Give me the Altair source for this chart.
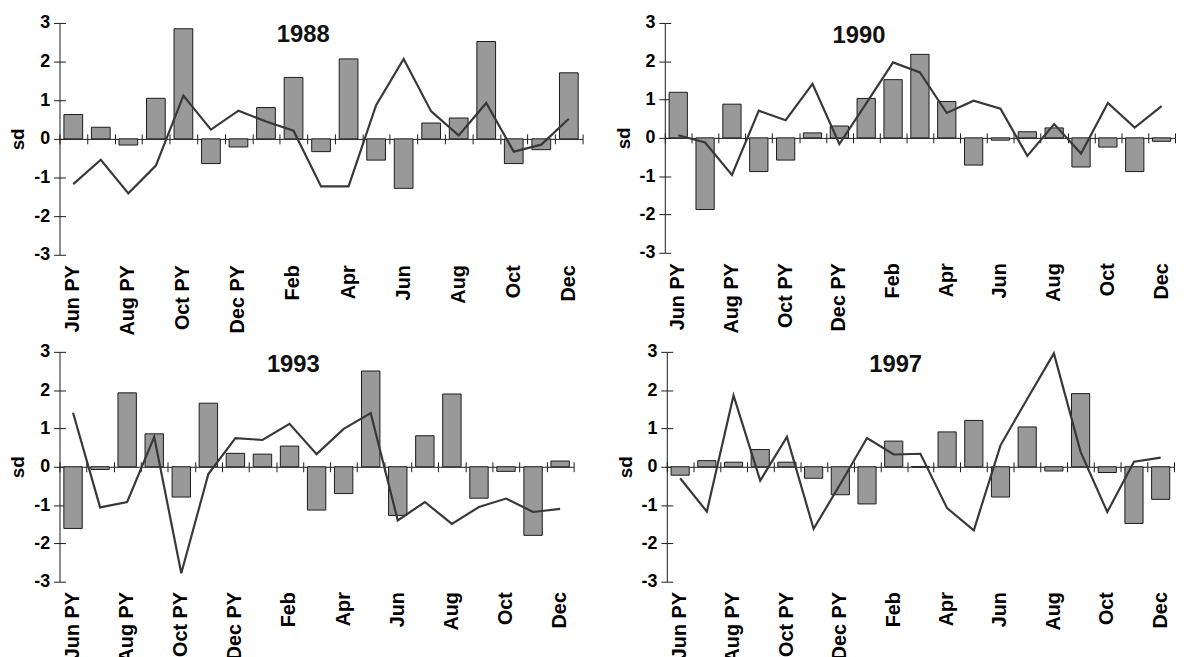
import altair as alt
import pandas as pd

MONTHS = ["Jun PY", "Jul PY", "Aug PY", "Sep PY", "Oct PY", "Nov PY", "Dec PY",
          "Jan", "Feb", "Mar", "Apr", "May", "Jun", "Jul", "Aug", "Sep", "Oct", "Nov", "Dec"]
TICK_LABELS = ["Jun PY", "Aug PY", "Oct PY", "Dec PY", "Feb", "Apr", "Jun", "Aug", "Oct", "Dec"]
Y_TICKS = [-3, -2, -1, 0, 1, 2, 3]
YEARS = ["1988", "1990", "1993", "1997"]

BARS_1988 = [0.63, 0.30, -0.16, 1.05, 2.85, -0.64, -0.21, 0.81, 1.59, -0.33, 2.07, -0.55, -1.28, 0.41, 0.54, 2.52, -0.64, -0.28, 1.71]
LINE_1988 = [-1.17, -0.54, -1.41, -0.69, 1.12, 0.24, 0.73, 0.45, 0.21, -1.23, -1.23, 0.87, 2.07, 0.71, 0.09, 0.93, -0.33, -0.15, 0.52]
BARS_1990 = [1.19, -1.87, 0.88, -0.88, -0.58, 0.13, 0.31, 1.03, 1.52, 2.18, 0.95, -0.71, -0.06, 0.16, 0.26, -0.76, -0.24, -0.88, -0.09]
LINE_1990 = [0.07, -0.12, -0.97, 0.71, 0.46, 1.41, -0.16, 0.90, 1.97, 1.71, 0.65, 0.97, 0.76, -0.47, 0.36, -0.41, 0.91, 0.27, 0.83]
BARS_1993 = [-1.61, -0.07, 1.93, 0.86, -0.79, 1.66, 0.35, 0.33, 0.54, -1.13, -0.70, 2.50, -1.27, 0.81, 1.90, -0.82, -0.12, -1.79, 0.15]
LINE_1993 = [1.41, -1.06, -0.92, 0.78, -2.78, -0.19, 0.75, 0.70, 1.12, 0.33, 0.99, 1.40, -1.40, -0.92, -1.49, -1.05, -0.83, -1.18, -1.10]
BARS_1997 = [-0.22, 0.16, 0.12, 0.45, 0.12, -0.30, -0.73, -0.97, 0.67, 0.0, 0.91, 1.21, -0.79, 1.04, -0.11, 1.91, -0.15, -1.48, -0.85]
LINE_1997 = [-0.30, -1.17, 1.86, -0.36, 0.78, -1.62, -0.45, 0.75, 0.32, 0.34, -1.08, -1.66, 0.56, 1.77, 2.96, 0.39, -1.18, 0.13, 0.24]

FONT = "Liberation Sans"
AX = "#1a1a1a"


def panel(year, bars, line, w, h, tx, ty):
    df = pd.DataFrame({"month": MONTHS, "bar": bars, "line": line})
    yscale = alt.Scale(domain=[-3, 3], nice=False, zero=False)
    xscale = alt.Scale(paddingInner=0, paddingOuter=0)
    base = alt.Chart(df)

    bar_layer = base.mark_bar(
        width=alt.RelativeBandSize(0.68), color="#999999", stroke=AX, strokeWidth=1
    ).encode(
        x=alt.X("month:N", sort=MONTHS, scale=xscale,
                axis=alt.Axis(orient="bottom", values=TICK_LABELS, ticks=False, domain=False,
                              grid=False, labelAngle=-90, labelPadding=10, labelFontSize=20,
                              labelFontWeight="bold", labelFont=FONT, labelColor="#000",
                              labelOverlap=False, title=None)),
        y=alt.Y("bar:Q", scale=yscale,
                axis=alt.Axis(orient="left", values=Y_TICKS, title="sd", titleFont=FONT,
                              titleFontSize=19, titleFontWeight="bold", titleColor="#000",
                              titlePadding=6, labelFont=FONT, labelFontSize=18,
                              labelFontWeight="bold", labelColor="#000", labelPadding=4,
                              labelExpr="replace(datum.label, '\u2212', '-')",
                              tickSize=6, tickColor=AX, domainColor=AX, grid=False)),
    )

    line_layer = base.mark_line(color="#383838", strokeWidth=2.2).encode(
        x=alt.X("month:N", sort=MONTHS, scale=xscale,
                axis=alt.Axis(orient="bottom", offset=-h / 2, tickBand="extent", labels=False,
                              domain=True, ticks=True, tickSize=5, tickColor=AX,
                              domainColor=AX, grid=False, title=None)),
        y=alt.Y("line:Q", scale=yscale,
                axis=alt.Axis(orient="right", offset=-w, values=Y_TICKS, labels=False,
                              domain=False, ticks=True, tickSize=6, tickColor=AX,
                              grid=False, title=None)),
    )

    ghost = base.mark_point(opacity=0).encode(
        x=alt.X("month:N", sort=MONTHS, scale=xscale,
                axis=alt.Axis(orient="top", offset=-h / 2, tickBand="extent", labels=False,
                              domain=False, ticks=True, tickSize=5, tickColor=AX,
                              grid=False, title=None)),
        y=alt.Y("line:Q", scale=yscale, axis=None),
    )

    txt = alt.Chart(pd.DataFrame({"year": [year]})).mark_text(
        font=FONT, fontSize=24, fontWeight="bold", color="#111"
    ).encode(text="year:N", x=alt.value(tx), y=alt.value(ty))

    return alt.layer(bar_layer, line_layer, ghost, txt).resolve_axis(
        x="independent", y="independent"
    ).properties(width=w, height=h)


p1 = panel(YEARS[0], BARS_1988, LINE_1988, 528, 234, 246, 12)
p2 = panel(YEARS[1], BARS_1990, LINE_1990, 515, 232, 196, 13)
p3 = panel(YEARS[2], BARS_1993, LINE_1993, 519, 232, 236, 13)
p4 = panel(YEARS[3], BARS_1997, LINE_1997, 512, 232, 231, 13)

row1 = alt.hconcat(p1, p2, spacing=30)
row2 = alt.hconcat(p3, p4, spacing=41)

chart = alt.vconcat(row1, row2, spacing=7).properties(
    padding={"left": 0, "top": 3, "right": 0, "bottom": 0},
    background="white",
).configure(font=FONT).configure_view(stroke=None).configure_axis(grid=False)

chart.save("out.html", embed_options={"renderer": "svg", "actions": False})
